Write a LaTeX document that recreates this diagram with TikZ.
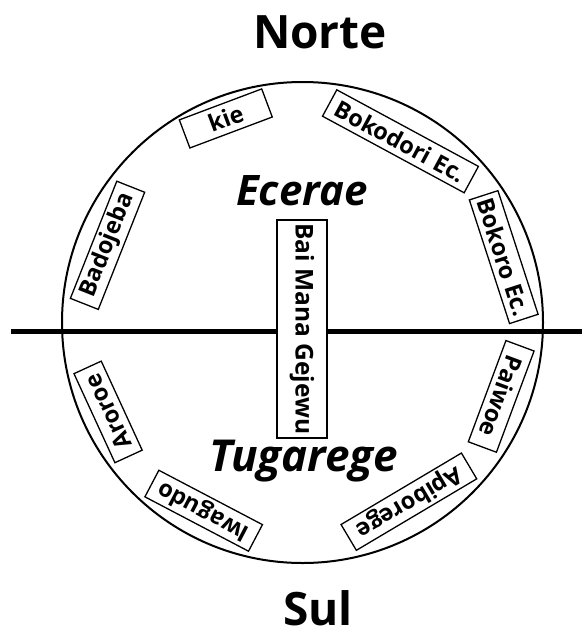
\documentclass[tikz,border=0pt]{standalone}
\usepackage{fontspec}
\setmainfont{Open Sans}
\usetikzlibrary{calc}
\begin{document}
\begin{tikzpicture}[x=1pt,y=-1pt,
  lbl/.style={draw=black, line width=1.3pt, fill=white, inner sep=0pt,
    font=\bfseries\fontsize{23.5}{23.5}\selectfont, minimum height=30pt},
  title/.style={anchor=base, font=\bfseries\fontsize{46}{46}\selectfont},
  moiety/.style={anchor=base, font=\bfseries\itshape\fontsize{42}{42}\selectfont}]
\useasboundingbox (0,0) rectangle (582,627);
\coordinate (C) at (302.5,322.5);
\coordinate (hl) at (11,331);
\coordinate (hr) at (582,331);
\draw[line width=5pt] (hl) -- (hr);
\node[circle, draw, line width=2pt, minimum size=481pt, inner sep=0pt] (ring) at (C) {};
\node[title] (norte) at (320,48) {Norte};
\node[title] (sul) at (318,625) {Sul};
\node[moiety] (ecerae) at (302,205) {Ecerae};
\node[moiety, font=\bfseries\itshape\fontsize{44}{44}\selectfont] (tugarege) at (304,471) {Tugarege};
\node[lbl, line width=1.5pt, font=\bfseries\fontsize{24.5}{24.5}\selectfont, minimum width=218pt, minimum height=50pt, rotate=-90] (bai) at (302,329) {Bai Mana Gejewu};
\node[lbl, minimum width=88pt, rotate=20.6] (kie) at ($(C)+(110.6:218pt)$) {kie};
\node[lbl, minimum width=161pt, rotate=-28.4] (bokodori) at ($(C)+(61.6:206pt)$) {Bokodori Ec.};
\node[lbl, minimum width=130pt, rotate=-72] (bokoro) at ($(C)+(18:211.6pt)$) {Bokoro Ec.};
\node[lbl, minimum width=108pt, rotate=-110.4] (paiwoe) at ($(C)+(-20.4:212pt)$) {Paiwoe};
\node[lbl, minimum width=140pt, rotate=-149.3] (apiborege) at ($(C)+(-59.3:208.4pt)$) {Apiborege};
\node[lbl, minimum width=117pt, rotate=-207.7] (iwagudo) at ($(C)+(-117.7:212.6pt)$) {Iwagudo};
\node[lbl, minimum width=98pt, rotate=-245.3] (aroroe) at ($(C)+(-155.3:214pt)$) {Aroroe};
\node[lbl, minimum width=126pt, rotate=68.4] (badojeba) at ($(C)+(158.4:209.7pt)$) {Badojeba};
\end{tikzpicture}
\end{document}
